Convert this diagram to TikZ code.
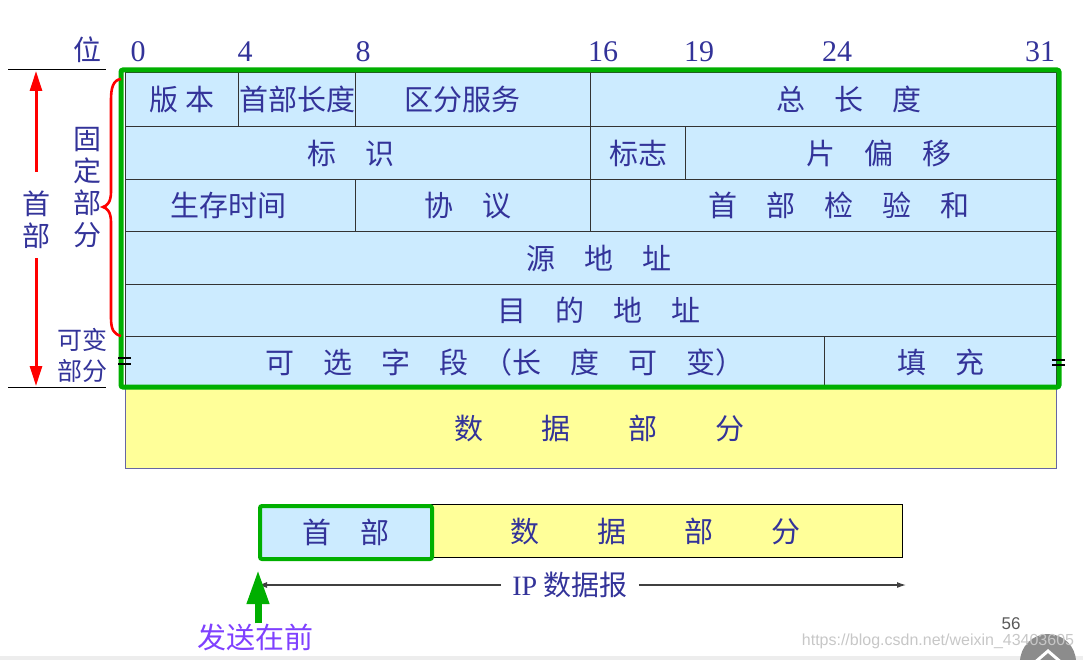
\documentclass[tikz,border=0pt]{standalone}
\usepackage{fontspec}
\setmainfont{Noto Sans CJK SC}
\newfontfamily\numfont{Liberation Serif}
\newfontfamily\wmfont{Liberation Sans}
\usetikzlibrary{arrows.meta}
\definecolor{hdrblue}{HTML}{CCEBFF}
\definecolor{datayellow}{HTML}{FFFF99}
\definecolor{navy}{HTML}{333399}
\definecolor{framegreen}{HTML}{00AF00}
\definecolor{cellline}{HTML}{333333}
\definecolor{sendpurple}{HTML}{7F40FF}

\begin{document}
\begin{tikzpicture}[x=1pt,y=-1pt]
\tikzstyle{every node}+=[inner sep=0pt]
\tikzstyle{field}=[draw=cellline, line width=1.3pt, fill=hdrblue, text=navy, anchor=north west, font=\fontsize{29}{29}\selectfont]
\tikzstyle{datafield}=[field, draw=black!60!blue!60, line width=1pt, fill=datayellow]
\tikzstyle{bitno}=[text=navy, font=\numfont\fontsize{30}{30}\selectfont]
\tikzstyle{side}=[text=navy, align=center, font=\fontsize{28}{32}\selectfont]
\tikzstyle{redarr}=[red, line width=3pt, -{Triangle[width=12pt,length=20pt]}]
\tikzstyle{dgarr}=[black!75, line width=1.2pt, -{Latex[length=9pt,width=6pt]}]
\useasboundingbox (0,0) rectangle (1083,660);
% bit positions
\node[side] (pos) at (87,50) {位};
\node[bitno] (b0) at (138,52) {0};
\node[bitno] (b4) at (245,52) {4};
\node[bitno] (b8) at (363,52) {8};
\node[bitno] (b16) at (603,52) {16};
\node[bitno] (b19) at (699,52) {19};
\node[bitno] (b24) at (837,52) {24};
\node[bitno] (b31) at (1040,52) {31};
% header fields
\node[field, minimum width=113pt, minimum height=54pt] (ver) at (125,72) {版\hspace{.25em}本};
\node[field, minimum width=117pt, minimum height=54pt] (ihl) at (238,72) {首部长度};
\node[field, minimum width=235pt, minimum height=54pt] (tos) at (355,72) {区分服务\hspace*{22pt}};
\node[field, minimum width=466pt, minimum height=54pt] (tlen) at (590,72) {\hspace*{50pt}总\hspace{1em}长\hspace{1em}度};
\node[field, minimum width=465pt, minimum height=53pt] (ident) at (125,126) {标\hspace{1em}识\hspace*{15pt}};
\node[field, minimum width=95pt, minimum height=53pt] (flags) at (590,126) {标志};
\node[field, minimum width=371pt, minimum height=53pt] (frag) at (685,126) {\hspace*{15pt}片\hspace{1em}偏\hspace{1em}移};
\node[field, minimum width=230pt, minimum height=52pt] (ttl) at (125,179) {生存时间\hspace*{24pt}};
\node[field, minimum width=235pt, minimum height=52pt] (proto) at (355,179) {协\hspace{1em}议\hspace*{10pt}};
\node[field, minimum width=466pt, minimum height=52pt] (csum) at (590,179) {\hspace*{30pt}首\hspace{1em}部\hspace{1em}检\hspace{1em}验\hspace{1em}和};
\node[field, minimum width=931pt, minimum height=53pt] (src) at (125,231) {\hspace*{15pt}源\hspace{1em}地\hspace{1em}址};
\node[field, minimum width=931pt, minimum height=52pt] (dst) at (125,284) {\hspace*{15pt}目\hspace{1em}的\hspace{1em}地\hspace{1em}址};
\node[field, minimum width=699pt, minimum height=51pt] (opts) at (125,336) {\hspace*{60pt}可\hspace{1em}选\hspace{1em}字\hspace{1em}段\hspace{.5em}（长\hspace{1em}度\hspace{1em}可\hspace{1em}变）};
\node[field, minimum width=232pt, minimum height=51pt] (pad) at (824,336) {填\hspace{1em}充};
\node[datafield, minimum width=931pt, minimum height=81pt] (data) at (125,387) {\hspace*{16pt}数\hspace{2em}据\hspace{2em}部\hspace{2em}分};
\draw[framegreen, line width=5pt, rounded corners=2pt] (121,70) rectangle (1059,387);
\draw[black, line width=2pt] (118,358) -- (131,358) (118,363.5) -- (131,363.5);
\draw[black, line width=2pt] (1052,359.5) -- (1065,359.5) (1052,365) -- (1065,365);
% left side
\draw[black, line width=1pt] (8,70) -- (106,70);
\draw[black, line width=1pt] (8,387) -- (106,387);
\coordinate (ltop) at (36,71);
\coordinate (lbot) at (36,386);
\node[side] (hdr) at (36,220) {首\\部};
\draw[redarr] ([yshift=19pt]hdr.north) -- (ltop);
\draw[redarr] ([yshift=-9pt]hdr.south) -- (lbot);
\node[side] (fixed) at (87,188) {固\\定\\部\\分};
\node[side, font=\fontsize{25}{31}\selectfont] (var) at (82,355) {可变\\部分};
\draw[red, line width=2.6pt] (121,79) .. controls (113,80) and (111,88) .. (111,100) -- (111,192)
  .. controls (111,202) and (107,206) .. (103,207) .. controls (107,208) and (111,212) .. (111,222)
  -- (111,318) .. controls (111,330) and (114,334) .. (121,336);
% datagram
\node[datafield, draw=black, minimum width=472pt, minimum height=53pt] (dbox) at (430,504) {数\hspace{2em}据\hspace{2em}部\hspace{2em}分\hspace*{22pt}};
\node[field, draw=framegreen, line width=4pt, rounded corners=2pt, minimum width=172pt, minimum height=53pt] (hbox) at (258,504) {首\hspace{1em}部};
\coordinate (dgl) at (258,585);
\coordinate (dgr) at (906,585);
\node[text=navy, inner sep=11pt, font=\fontsize{28}{28}\selectfont] (ipd) at (570,585) {{\numfont IP} 数据报};
\draw[dgarr] (ipd.west) -- (dgl);
\draw[dgarr] (ipd.east) -- (dgr);
\node[text=sendpurple, font=\fontsize{29}{29}\selectfont] (send) at (255,637) {发送在前};
\draw[framegreen, line width=7pt, -{Triangle[width=21pt,length=34pt]}] (send.north -| hbox.west) -- ([yshift=-9pt]hbox.south west);
% page
\fill[black!7] (0,656) rectangle (1083,660);
\node[text=black!65, font=\wmfont\fontsize{17}{17}\selectfont] (page) at (1011,624) {56};
\fill[black!45] (1048,662) circle (28);
\draw[white, line width=3pt] (1033,664) -- (1048,651) -- (1063,664);
\node[text=black!22, font=\wmfont\fontsize{16}{16}\selectfont] (wmark) at (938,641) {https://blog.csdn.net/weixin\_43403605};
\end{tikzpicture}
\end{document}
